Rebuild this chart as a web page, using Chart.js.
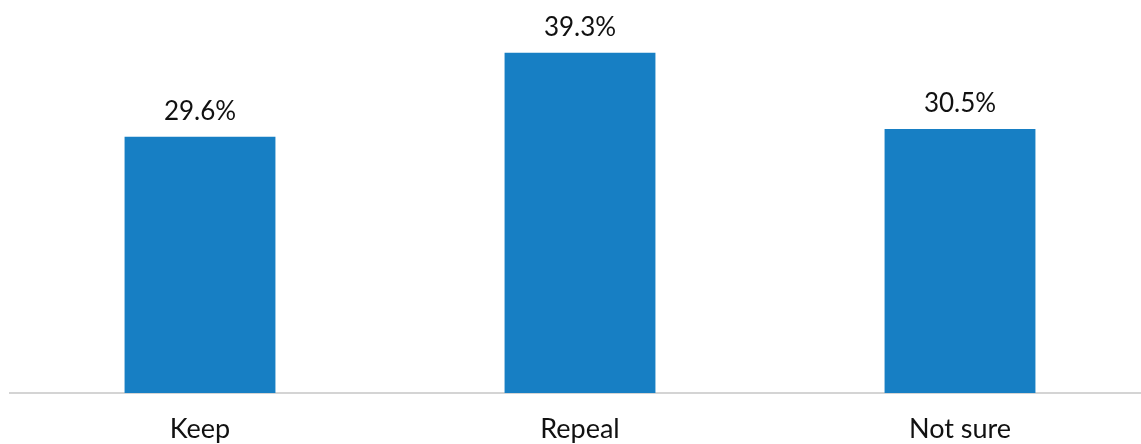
<!DOCTYPE html>
<html>
<head>
<meta charset="utf-8">
<script src="https://cdn.jsdelivr.net/npm/chart.js@4"></script>
<style>
    html, body { margin: 0; padding: 0; background: #fff; overflow: hidden; }
    #wrap { width: 1150px; height: 444px; position: relative; }
</style>
</head>
<body>
<div id="wrap"><canvas id="pollChart"></canvas></div>
<script>
const categories = ['Keep', 'Repeal', 'Not sure'];
const shares = [29.6, 39.3, 30.5];

// draws "xx.x%" above each bar
const valueLabels = {
    id: 'valueLabels',
    afterDatasetsDraw(chart) {
        const ctx = chart.ctx;
        const meta = chart.getDatasetMeta(0);
        ctx.save();
        ctx.font = "26px Lato, sans-serif";
        ctx.fillStyle = '#111';
        ctx.textAlign = 'center';
        ctx.textBaseline = 'alphabetic';
        meta.data.forEach((bar, i) => {
            ctx.fillText(shares[i].toFixed(1) + '%', bar.x, bar.y - 17);
        });
        ctx.restore();
    }
};

const ctx = document.getElementById('pollChart').getContext('2d');
new Chart(ctx, {
    type: 'bar',
    data: {
        labels: categories,
        datasets: [{
            data: shares,
            backgroundColor: '#177fc4',
            borderWidth: 0,
            barPercentage: 0.397,
            categoryPercentage: 1
        }]
    },
    options: {
        responsive: true,
        maintainAspectRatio: false,
        animation: false,
        layout: { padding: { left: 10, right: 0, top: 0, bottom: 0 } },
        plugins: {
            legend: { display: false },
            tooltip: { enabled: false }
        },
        scales: {
            x: {
                grid: { display: false },
                border: { display: true, color: '#d4d4d4', width: 2 },
                ticks: {
                    color: '#111',
                    font: { family: 'Lato, sans-serif', size: 27 },
                    padding: 12
                },
                afterFit: scale => { scale.height = 51; }
            },
            y: {
                display: false,
                min: 0,
                max: 45.4
            }
        }
    },
    plugins: [valueLabels]
});
</script>
</body>
</html>
